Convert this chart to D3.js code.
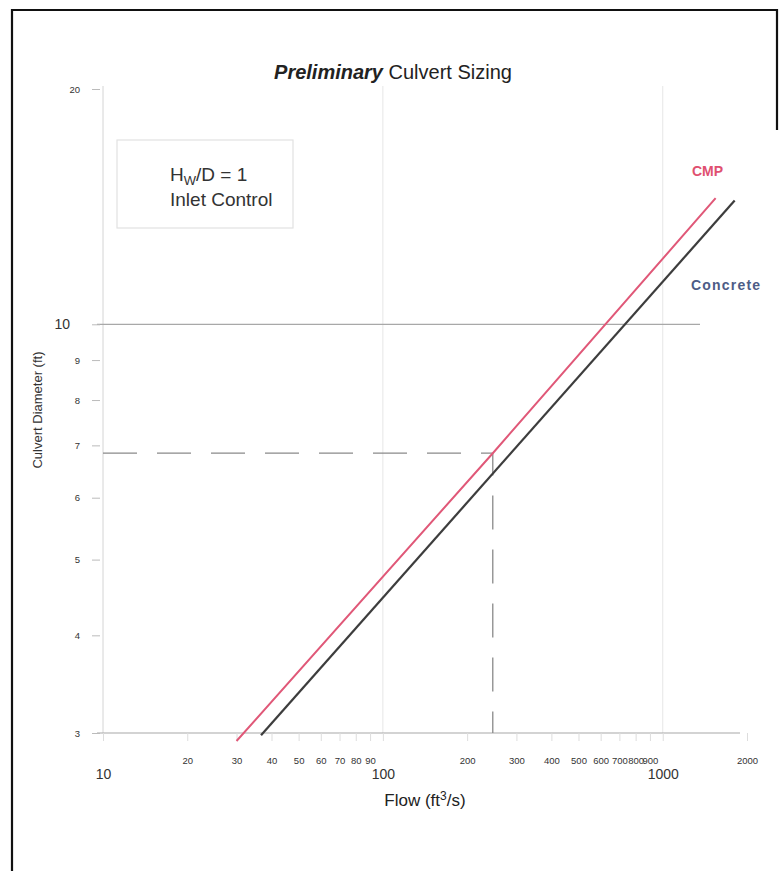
<!DOCTYPE html>
<html>
<head>
<meta charset="utf-8">
<script src="https://cdn.jsdelivr.net/npm/d3@7"></script>
<style>
  html, body { margin: 0; padding: 0; background: #fff; }
  svg text { font-family: "Liberation Sans", Arial, sans-serif; }
</style>
</head>
<body>
<svg id="chart" width="784" height="871"></svg>
<script>
// ---- data ----
const flowTicks = [10, 20, 30, 40, 50, 60, 70, 80, 90, 100, 200, 300, 400, 500, 600, 700, 800, 900, 1000, 2000];
const flowMajor = [10, 100, 1000];
const diamTicks = [3, 4, 5, 6, 7, 8, 9, 10, 20];
const diamMajor = [10];

const cmpFlow = [30, 247, 1545];
const cmpDiam = [2.93, 6.84, 14.5];
const concreteFlow = [36.7, 1807];
const concreteDiam = [2.98, 14.4];

const designFlow = 247;
const designDiam = 6.84;

// ---- layout ----
const svg = d3.select("#chart");
const x = d3.scaleLog().domain([10, 2000]).range([103, 747]);
const y = d3.scaleLog().domain([3, 20]).range([733, 89]);

// frame
svg.append("path")
  .attr("d", "M12,871 L12,10 L777,10 L777,130")
  .attr("fill", "none").attr("stroke", "#111").attr("stroke-width", 2.2);

// title
const title = svg.append("text").attr("x", 393).attr("y", 79)
  .attr("text-anchor", "middle").attr("font-size", 20).attr("fill", "#222");
title.append("tspan").attr("font-weight", "bold").attr("font-style", "italic").text("Preliminary");
title.append("tspan").text(" Culvert Sizing");

// vertical gridlines
svg.append("g").selectAll("line").data(flowMajor).join("line")
  .attr("x1", d => x(d)).attr("x2", d => x(d))
  .attr("y1", y(20) - 3).attr("y2", y(3))
  .attr("stroke", d => d === 10 ? "#d4d4d4" : "#e6e6e6").attr("stroke-width", 1);

// horizontal gridline at 10
svg.append("line")
  .attr("x1", 97).attr("x2", 700).attr("y1", y(10)).attr("y2", y(10))
  .attr("stroke", "#a8a8a8").attr("stroke-width", 1.2);
// bottom line at 3
svg.append("line")
  .attr("x1", 97).attr("x2", 740).attr("y1", y(3)).attr("y2", y(3))
  .attr("stroke", "#a8a8a8").attr("stroke-width", 1.2);

// x axis
const xAxis = svg.append("g").attr("transform", `translate(0,${y(3)})`)
  .call(d3.axisBottom(x).tickValues(flowTicks).tickFormat(d3.format("d")).tickSize(8).tickPadding(20));
xAxis.select(".domain").remove();
xAxis.selectAll(".tick line").attr("stroke", "#ddd");
xAxis.selectAll(".tick text")
  .attr("fill", "#333")
  .attr("font-family", "Liberation Sans, Arial, sans-serif")
  .attr("font-size", d => flowMajor.includes(d) ? 14 : 9.5)
  .attr("dy", d => flowMajor.includes(d) ? "0.71em" : "0.71em")
  .attr("y", d => flowMajor.includes(d) ? 36 : 24);

// y axis
const yAxis = svg.append("g").attr("transform", `translate(100,0)`)
  .call(d3.axisLeft(y).tickValues(diamTicks).tickFormat(d3.format("d")).tickSize(8).tickPadding(12));
yAxis.select(".domain").remove();
yAxis.selectAll(".tick line").attr("stroke", "#bbb");
yAxis.selectAll(".tick text")
  .attr("fill", "#333")
  .attr("font-family", "Liberation Sans, Arial, sans-serif")
  .attr("font-size", d => diamMajor.includes(d) ? 14 : 9.5)
  .attr("x", d => diamMajor.includes(d) ? -30 : -20);

// axis titles
const xt = svg.append("text").attr("x", 425).attr("y", 806)
  .attr("text-anchor", "middle").attr("font-size", 17).attr("fill", "#222");
xt.append("tspan").text("Flow (ft");
xt.append("tspan").attr("font-size", 12).attr("dy", -6).text("3");
xt.append("tspan").attr("dy", 6).text("/s)");

svg.append("text")
  .attr("transform", "translate(42,410) rotate(-90)")
  .attr("text-anchor", "middle").attr("font-size", 13).attr("fill", "#333")
  .text("Culvert Diameter (ft)");

// legend box
svg.append("rect").attr("x", 117).attr("y", 140).attr("width", 176).attr("height", 88)
  .attr("fill", "#fff").attr("stroke", "#e2e2e2").attr("stroke-width", 1.2);
const l1 = svg.append("text").attr("x", 170).attr("y", 181).attr("font-size", 19).attr("fill", "#333");
l1.append("tspan").text("H");
l1.append("tspan").attr("font-size", 13).attr("dy", 4).text("W");
l1.append("tspan").attr("dy", -4).text("/D = 1");
svg.append("text").attr("x", 170).attr("y", 206).attr("font-size", 19).attr("fill", "#333").text("Inlet Control");

// design point dashed lines
svg.append("path")
  .attr("d", `M${x(10)},${y(designDiam)} L${x(designFlow)},${y(designDiam)} L${x(designFlow)},${y(3)}`)
  .attr("fill", "none").attr("stroke", "#8a8a8a").attr("stroke-width", 1.3)
  .attr("stroke-dasharray", "34,20");

// lines
const line = d3.line().x(d => x(d[0])).y(d => y(d[1]));
svg.append("path")
  .datum(concreteFlow.map((f, i) => [f, concreteDiam[i]]))
  .attr("d", line).attr("fill", "none").attr("stroke", "#3d3d3d").attr("stroke-width", 2.2);
svg.append("path")
  .datum(cmpFlow.map((f, i) => [f, cmpDiam[i]]))
  .attr("d", line).attr("fill", "none").attr("stroke", "#e05878").attr("stroke-width", 2);

// series labels
svg.append("text").attr("x", 692).attr("y", 176).attr("font-size", 14).attr("font-weight", "bold")
  .attr("fill", "#e05070").text("CMP");
svg.append("text").attr("x", 691).attr("y", 290).attr("font-size", 14).attr("font-weight", "bold")
  .attr("letter-spacing", 1.2).attr("fill", "#4d5c86").text("Concrete");
</script>
</body>
</html>
